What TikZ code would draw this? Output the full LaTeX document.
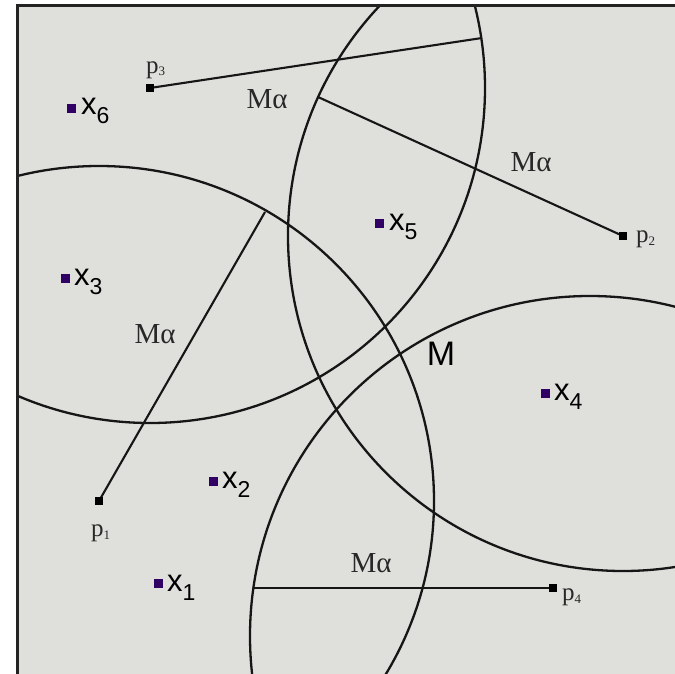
\documentclass[tikz,border=0pt]{standalone}
\usepackage{fontspec}
\setmainfont{Liberation Serif}
\newfontfamily\sansf{Liberation Sans}
\definecolor{bggray}{RGB}{223,224,220}
\definecolor{bordc}{RGB}{35,35,35}
\definecolor{linec}{RGB}{22,22,22}
\definecolor{xpurple}{RGB}{48,0,100}
\definecolor{labgray}{RGB}{40,40,40}
\begin{document}
\begin{tikzpicture}[x=1pt,y=-1pt,
  circ/.style={draw=linec, line width=2.3pt},
  seg/.style={draw=linec, line width=2.1pt},
  pmark/.style={fill=black, minimum size=8pt, inner sep=0pt, outer sep=0pt},
  xmark/.style={fill=xpurple, minimum size=9pt, inner sep=0pt, outer sep=0pt},
  malab/.style={font=\fontsize{29}{29}\selectfont, text=labgray, inner sep=0pt},
  plab/.style={font=\fontsize{25}{25}\selectfont, text=labgray, inner sep=0pt, anchor=base west},
  xlab/.style={font=\sansf\fontsize{31}{31}\selectfont, text=black, inner sep=0pt, anchor=base west},
  mlab/.style={font=\sansf\fontsize{34}{34}\selectfont, text=black, inner sep=0pt}]
\useasboundingbox (0,0) rectangle (675,674);
\fill[white] (0,0) rectangle (675,674);
\begin{scope}
  \clip (17,6) rectangle (675,674);
  \fill[bggray] (17,6) rectangle (675,674);
  % centres
  \node[pmark] (p1) at (99,501) {};
  \node[pmark] (p2) at (623,236) {};
  \node[pmark] (p3) at (150,88) {};
  \node[pmark] (p4) at (553,588) {};
  \coordinate (c4) at (590,636);
  % circles
  \draw[circ] (p1.center) circle[radius=335pt];
  \draw[circ] (p2.center) circle[radius=335pt];
  \draw[circ] (p3.center) circle[radius=335pt];
  \draw[circ] (c4) circle[radius=340pt];
  % radii
  \coordinate (e1) at (265,212);
  \coordinate (e2) at (318,97);
  \coordinate (e3) at (482,38);
  \coordinate (e4) at (253,588);
  \draw[seg] (p1.center) -- (e1);
  \draw[seg] (p2.center) -- (e2);
  \draw[seg] (p3.center) -- (e3);
  \draw[seg] (p4.center) -- (e4);
  % redraw centre squares on top
  \node[pmark] at (p1) {};
  \node[pmark] at (p2) {};
  \node[pmark] at (p3) {};
  \node[pmark] at (p4) {};
  % labels of centres
  \node[plab] (lp1) at (91,536) {p\raisebox{-3pt}{\fontsize{13}{13}\selectfont 1}};
  \node[plab] (lp2) at (636,242) {p\raisebox{-3pt}{\fontsize{13}{13}\selectfont 2}};
  \node[plab] (lp3) at (146,74) {p\raisebox{-2pt}{\fontsize{13}{13}\selectfont 3}};
  \node[plab] (lp4) at (562,600) {p\raisebox{-3pt}{\fontsize{13}{13}\selectfont 4}};
  % M alpha labels
  \node[malab] (ma3) at (267,99) {Mα};
  \node[malab] (ma2) at (531,162) {Mα};
  \node[malab] (ma1) at (155,334) {Mα};
  \node[malab] (ma4) at (371,563) {Mα};
  % M
  \node[mlab] (m) at (441,354) {M};
  % points x
  \node[xmark] (x1) at (158,583) {};
  \node[xmark] (x2) at (213,481) {};
  \node[xmark] (x3) at (65,278) {};
  \node[xmark] (x4) at (545,393) {};
  \node[xmark] (x5) at (379,223) {};
  \node[xmark] (x6) at (71,109) {};
  \node[xlab] (lx1) at (167,591) {x\raisebox{-9pt}{\fontsize{23}{23}\selectfont 1}};
  \node[xlab] (lx2) at (222,488) {x\raisebox{-9pt}{\fontsize{23}{23}\selectfont 2}};
  \node[xlab] (lx3) at (74,285) {x\raisebox{-9pt}{\fontsize{23}{23}\selectfont 3}};
  \node[xlab] (lx4) at (554,400) {x\raisebox{-9pt}{\fontsize{23}{23}\selectfont 4}};
  \node[xlab] (lx5) at (389,230) {x\raisebox{-9pt}{\fontsize{23}{23}\selectfont 5}};
  \node[xlab] (lx6) at (81,115) {x\raisebox{-9pt}{\fontsize{23}{23}\selectfont 6}};
\end{scope}
\draw[bordc, line width=3pt] (17.5,674) -- (17.5,6) -- (675,6);
\end{tikzpicture}
\end{document}
